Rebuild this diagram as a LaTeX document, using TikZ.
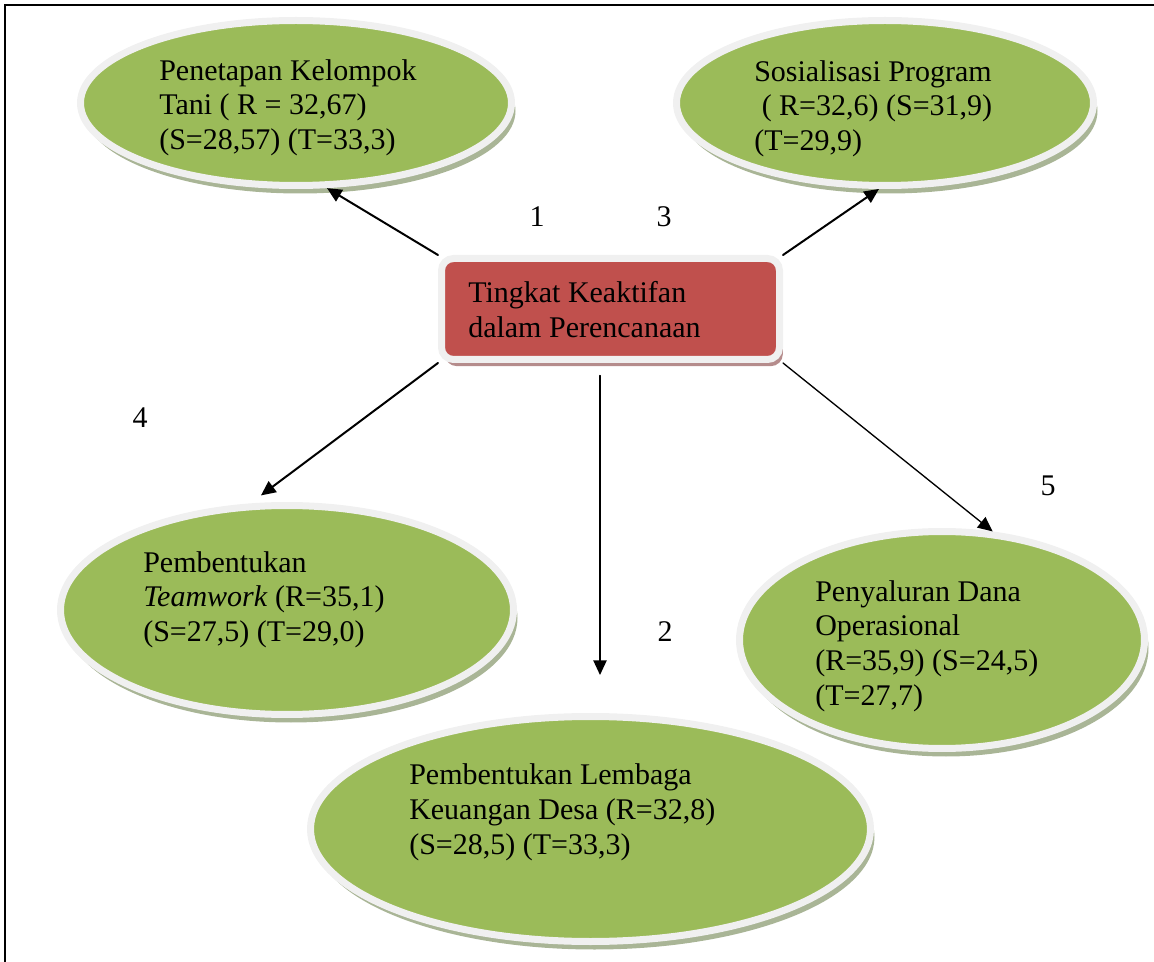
\documentclass[tikz,border=0pt]{standalone}
\usepackage{fontspec}
\setmainfont{Liberation Serif}
\usetikzlibrary{shapes.geometric,arrows.meta,shadows}

\begin{document}
\begin{tikzpicture}
		[x=0.75pt,y=-0.75pt,line cap=round,
		%Styles
		rim/.style={draw=rimgray,line width=5.25pt},
		leaf/.style={rim,ellipse,fill=leafgreen,inner sep=0pt,
			drop shadow={shadow xshift=3pt,shadow yshift=-6pt,fill=leafshadow,opacity=1}},
		center box/.style={rim,rectangle,rounded corners=9pt,fill=boxred,inner sep=0pt,
			drop shadow={shadow xshift=2.5pt,shadow yshift=-5pt,fill=boxshadow,opacity=1}},
		leaf text/.style={anchor=base west,align=left,inner sep=0pt,font=\fontsize{22.5}{25.9}\selectfont},
		number/.style={anchor=base,inner sep=0pt,font=\fontsize{22.5}{25.9}\selectfont},
		thick arrow/.style={-{Triangle[length=11pt,width=10pt]},line width=1.5pt},
		thin arrow/.style={-{Triangle[length=11pt,width=10pt]},line width=1pt}
		]
		
		%Colors
		\definecolor{leafgreen}{HTML}{9BBB59}
		\definecolor{boxred}{HTML}{C0504D}
		\definecolor{rimgray}{HTML}{F0F0F0}
		\definecolor{leafshadow}{HTML}{A9B596}
		\definecolor{boxshadow}{HTML}{B58C8C}
		
		\useasboundingbox (0,0) rectangle (1154,962);
		
		%Frame
		\draw[line width=1.5pt,line cap=butt] (5,962) -- (5,5) -- (1154,5);
		
		%The graphic (text nodes sit on their last baseline)
		\node[center box,minimum width=253.5pt,minimum height=75.75pt] (pusat) at (610.5,309) {};
		\node[leaf,minimum width=323.25pt,minimum height=123.75pt] (penetapan) at (296,103) {};
		\node[leaf,minimum width=312.75pt,minimum height=123.75pt] (sosialisasi) at (885,103) {};
		\node[leaf,minimum width=339.75pt,minimum height=156.75pt] (teamwork) at (287,610) {};
		\node[leaf,minimum width=420pt,minimum height=168.75pt] (lembaga) at (590.5,829) {};
		\node[leaf,minimum width=303.75pt,minimum height=162.75pt] (penyaluran) at (942,640) {};
		
		\node[leaf text] (pusat text) at (468,337.5) {Tingkat Keaktifan\\dalam Perencanaan};
		\node[leaf text] (penetapan text) at (159,149.5) {Penetapan Kelompok\\Tani ( R = 32,67)\\(S=28,57) (T=33,3)};
		\node[leaf text] (sosialisasi text) at (754,150.5) {Sosialisasi Program\\\hspace{0.25em}( R=32,6) (S=31,9)\\(T=29,9)};
		\node[leaf text] (teamwork text) at (143,641.5) {Pembentukan\\\textit{Teamwork} (R=35,1)\\(S=27,5) (T=29,0)};
		\node[leaf text] (lembaga text) at (409,854) {Pembentukan Lembaga\\Keuangan Desa (R=32,8)\\(S=28,5) (T=33,3)};
		\node[leaf text] (penyaluran text) at (815,705) {Penyaluran Dana\\Operasional\\(R=35,9) (S=24,5)\\(T=27,7)};
		
		\node[number] (no1) at (537,227) {1};
		\node[number] (no3) at (664,227) {3};
		\node[number] (no4) at (140,428) {4};
		\node[number] (no5) at (1048,496) {5};
		\node[number] (no2) at (665,641) {2};
		
		\coordinate (ujung) at (600,675);
		
		\draw[thick arrow] (pusat.north west) -- (penetapan.-70);
		\draw[thick arrow] (pusat.north east) -- (sosialisasi.-94);
		\draw[thick arrow,shorten >=10pt] (pusat.south west) -- (teamwork.109);
		\draw[thin arrow] ([shift={(-10.5,12.5)}]pusat.south) -- (ujung);
		\draw[thin arrow] (pusat.south east) -- (penyaluran.65);
	\end{tikzpicture}
\end{document}
